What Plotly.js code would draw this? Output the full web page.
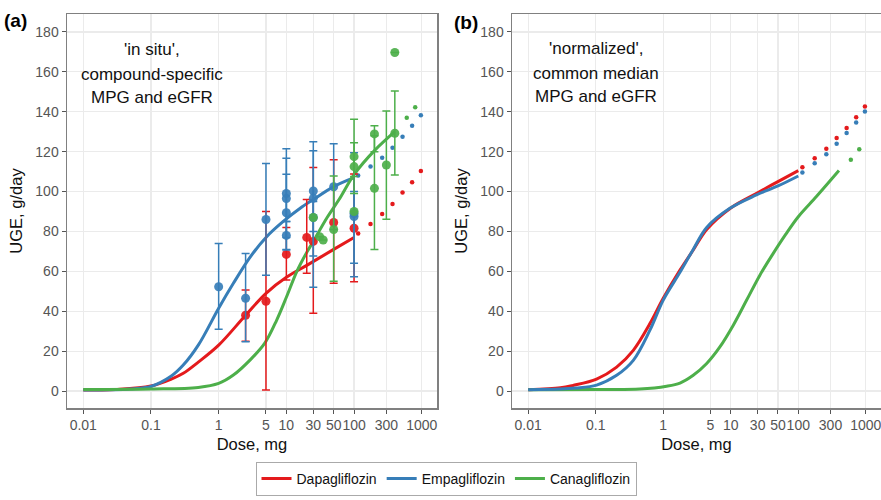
<!DOCTYPE html>
<html><head><meta charset="utf-8">
<script src="https://cdn.plot.ly/plotly-3.0.1.min.js"></script>
<style>html,body{margin:0;padding:0;background:#fff}#chart{width:881px;height:500px}</style>
</head><body><div id="chart"></div>
<script>
const drugs = ['Dapagliflozin', 'Empagliflozin', 'Canagliflozin'];
const colors = ['#E41A1C', '#377EB8', '#4DAF4A'];

// ---- Panel (a): 'in situ' fitted curves ----
const dapaCurveDoseA = [0.01, 0.03, 0.1, 0.2, 0.3, 0.5, 1, 2.5, 5, 10, 20, 50, 100];
const dapaCurveUgeA  = [0.5, 0.8, 2.5, 6, 8.9, 14.5, 23, 38, 49, 57, 63, 71, 77];
const empaCurveDoseA = [0.01, 0.05, 0.1, 0.2, 0.3, 0.5, 1, 1.65, 2.9, 5, 9, 16, 25, 50, 100];
const empaCurveUgeA  = [0.5, 1, 2.3, 7.5, 13, 23, 41.5, 54, 67, 77, 85, 91.6, 96, 102.5, 107];
const canaCurveDoseA = [0.01, 0.1, 0.5, 1, 1.65, 2.9, 4.8, 7.2, 10, 14.3, 20, 25, 40, 60, 100, 200, 400];
const canaCurveUgeA  = [0.8, 1, 1.8, 3.8, 8, 15.5, 24, 35.6, 47, 60, 69.5, 75, 87, 96, 108.5, 120.5, 130];

// ---- Panel (a): extrapolated dots ----
const extraDose = [115, 175, 260, 370, 520, 720, 970];
const dapaExtraA = [79, 83.7, 88.8, 93.8, 99.5, 104.7, 110.3];
const empaExtraA = [108, 112.5, 117, 122, 127.5, 133, 138.3];
const canaExtraDose = [600, 800];
const canaExtraA = [137, 142.3];

// ---- Panel (a): observed data (mean, lower, upper) ----
const dapaObsDose = [2.5, 5, 10, 20, 25, 50, 100];
const dapaObs     = [38, 45, 68.5, 77, 75, 84.5, 81.6];
const dapaObsLo   = [25, 0.5, 55.7, 59, 39, 54, 54.8];
const dapaObsHi   = [50.6, 90, 82, 96, 112, 116, 108.8];

const empaObsDose = [1, 2.5, 5, 10, 10, 10, 10, 25, 25, 25, 50, 100, 100];
const empaObs     = [52.3, 46.5, 86, 99, 96.5, 89.4, 78, 100.3, 96.6, 87, 102.4, 87.5, 89];
const empaObsLo   = [31, 24.7, 58, 77, 85, 70.7, 71, 67.7, 52, 80, 81, 57.3, 64];
const empaObsHi   = [74, 69, 114, 121.4, 108.7, 116.7, 85, 125, 120.5, 95, 124, 119.5, 100];

const canaObsDose = [25, 31, 35, 50, 100, 100, 100, 200, 200, 300, 400, 400];
const canaObs     = [87, 77.4, 75.7, 81, 117.5, 112.5, 90, 128.9, 101.6, 113.3, 129.2, 169.7];
const canaObsLo   = [87, 77.4, 75.7, 55, 107.5, 99, 90, 120, 71, 86.1, 108.3, 169.7];
const canaObsHi   = [87, 77.4, 75.7, 107.8, 136.2, 124.5, 90, 133, 128, 140.4, 150.4, 169.7];

// ---- Panel (b): 'normalized' curves ----
const dapaCurveDoseB = [0.01, 0.03, 0.046, 0.103, 0.204, 0.36, 0.635, 1, 1.77, 2.78, 4.4, 10, 25, 50, 100];
const dapaCurveUgeB  = [0.7, 1.6, 2.8, 6, 12, 20.4, 33.8, 46.5, 60.6, 70.7, 81, 91.8, 99.4, 105, 110.5];
const empaCurveDoseB = [0.01, 0.03, 0.05, 0.103, 0.204, 0.36, 0.635, 1, 1.77, 2.78, 4.4, 9.7, 24, 50, 100];
const empaCurveUgeB  = [0.7, 1, 1.5, 3, 7.9, 15.4, 30.5, 45.6, 59.5, 71, 82, 91.6, 98.3, 102.8, 107.8];
const canaCurveDoseB = [0.01, 0.1, 0.45, 1.12, 1.77, 2.78, 4.4, 6.9, 10.9, 17.2, 27, 42.6, 65, 100, 187, 400];
const canaCurveUgeB  = [0.7, 0.8, 1, 2.4, 4, 7.9, 13.8, 22.1, 33, 45.6, 58.1, 69, 78.5, 87.4, 97.6, 110.5];
const dapaExtraB = [112.2, 116.7, 121.4, 126.8, 131.8, 137.3, 142.6];
const empaExtraB = [109.5, 114.2, 118.7, 123.9, 129.3, 134.6, 140.1];
const canaExtraB = [115.9, 121.2];

// ---- axis ticks ----
const xTickVals = [0.01, 0.1, 1, 5, 10, 25, 50, 100, 300, 1000];
const xTickText = ['0.01', '0.1', '1', '5', '10', '30', '50', '100', '300', '1000'];
const yTickVals = [0, 20, 40, 60, 80, 100, 120, 140, 160, 180];

const annA = ["'in situ',", 'compound-specific', 'MPG and eGFR'];
const annB = ["'normalized',", 'common median', 'MPG and eGFR'];

const FONT = 'Liberation Sans, Arial, sans-serif';
const traces = [];

function curve(x, y, c, xa, ya, name, leg) {
  traces.push({x: x, y: y, mode: 'lines', type: 'scatter', xaxis: xa, yaxis: ya,
    line: {color: c, width: 3, shape: 'spline', smoothing: 1},
    name: name, showlegend: leg, hoverinfo: 'skip'});
}
function dots(x, y, c, xa, ya) {
  traces.push({x: x, y: y, mode: 'markers', type: 'scatter', xaxis: xa, yaxis: ya,
    marker: {color: c, size: 4.5}, showlegend: false, hoverinfo: 'skip'});
}
function obs(x, y, lo, hi, c) {
  traces.push({x: x, y: y, mode: 'markers', type: 'scatter', xaxis: 'x', yaxis: 'y',
    marker: {color: c, size: 9, opacity: 0.92},
    error_y: {type: 'data', symmetric: false,
      array: hi.map((h, i) => h - y[i]), arrayminus: lo.map((l, i) => y[i] - l),
      color: c, thickness: 1.5, width: 4},
    showlegend: false, hoverinfo: 'skip'});
}

curve(dapaCurveDoseA, dapaCurveUgeA, colors[0], 'x', 'y', drugs[0], true);
curve(empaCurveDoseA, empaCurveUgeA, colors[1], 'x', 'y', drugs[1], true);
curve(canaCurveDoseA, canaCurveUgeA, colors[2], 'x', 'y', drugs[2], true);
dots(extraDose, dapaExtraA, colors[0], 'x', 'y');
dots(extraDose, empaExtraA, colors[1], 'x', 'y');
dots(canaExtraDose, canaExtraA, colors[2], 'x', 'y');
obs(dapaObsDose, dapaObs, dapaObsLo, dapaObsHi, colors[0]);
obs(empaObsDose, empaObs, empaObsLo, empaObsHi, colors[1]);
obs(canaObsDose, canaObs, canaObsLo, canaObsHi, colors[2]);

curve(dapaCurveDoseB, dapaCurveUgeB, colors[0], 'x2', 'y2', drugs[0], false);
curve(canaCurveDoseB, canaCurveUgeB, colors[2], 'x2', 'y2', drugs[2], false);
curve(empaCurveDoseB, empaCurveUgeB, colors[1], 'x2', 'y2', drugs[1], false);
dots(extraDose, dapaExtraB, colors[0], 'x2', 'y2');
dots(extraDose, empaExtraB, colors[1], 'x2', 'y2');
dots(canaExtraDose, canaExtraB, colors[2], 'x2', 'y2');

function xax(domain, anchor) {
  return {type: 'log', domain: domain, anchor: anchor, range: [-2.24, 3.225],
    tickvals: xTickVals, ticktext: xTickText, tickangle: 0, ticklabeloverflow: 'allow',
    ticks: 'outside', ticklen: 4, tickcolor: '#555',
    tickfont: {family: FONT, size: 14, color: '#555'},
    showgrid: true, gridcolor: '#EBEBEB', gridwidth: 1.2, zeroline: false,
    showline: true, mirror: true, linecolor: '#808080', linewidth: 1.5,
    title: {text: 'Dose, mg', font: {family: FONT, size: 16.5, color: '#111'}, standoff: 6}};
}
function yax(anchor) {
  return {domain: [0.184, 0.972], anchor: anchor, range: [-8.5, 189],
    tickvals: yTickVals, ticks: 'outside', ticklen: 4, tickcolor: '#555',
    tickfont: {family: FONT, size: 14, color: '#555'},
    showgrid: true, gridcolor: '#EBEBEB', gridwidth: 1.2, zeroline: false,
    showline: true, mirror: true, linecolor: '#808080', linewidth: 1.5,
    title: {text: 'UGE, g/day', font: {family: FONT, size: 16.5, color: '#111'}, standoff: 8}};
}

const annotations = [];
annA.forEach((t, i) => annotations.push({xref: 'paper', yref: 'paper', x: 152 / 881, y: 1 - (50 + i * 24) / 500,
  xanchor: 'center', yanchor: 'middle', text: t, showarrow: false, font: {family: FONT, size: 17, color: '#111'}}));
annB.forEach((t, i) => annotations.push({xref: 'paper', yref: 'paper', x: 596 / 881, y: 1 - (49 + i * 24) / 500,
  xanchor: 'center', yanchor: 'middle', text: t, showarrow: false, font: {family: FONT, size: 17, color: '#111'}}));
annotations.push({xref: 'paper', yref: 'paper', x: 2 / 881, y: 1 - 20 / 500, xanchor: 'left', yanchor: 'middle',
  text: '<b>(a)</b>', showarrow: false, font: {family: FONT, size: 19, color: '#000'}});
annotations.push({xref: 'paper', yref: 'paper', x: 452 / 881, y: 1 - 22 / 500, xanchor: 'left', yanchor: 'middle',
  text: '<b>(b)</b>', showarrow: false, font: {family: FONT, size: 19, color: '#000'}});

const layout = {
  width: 881, height: 500, margin: {l: 0, r: 0, t: 0, b: 0},
  paper_bgcolor: '#fff', plot_bgcolor: '#fff',
  xaxis: xax([67 / 881, 437 / 881], 'y'),
  yaxis: yax('x'),
  xaxis2: xax([512 / 881, 1.0], 'y2'),
  yaxis2: yax('x2'),
  showlegend: true,
  legend: {orientation: 'h', x: 446 / 881, xanchor: 'center', y: 1 - 462 / 500, yanchor: 'top',
    bordercolor: '#aaa', borderwidth: 1, bgcolor: '#fff',
    font: {family: FONT, size: 14, color: '#111'}},
  annotations: annotations
};

Plotly.newPlot('chart', traces, layout, {displayModeBar: false, staticPlot: true});
</script></body></html>
